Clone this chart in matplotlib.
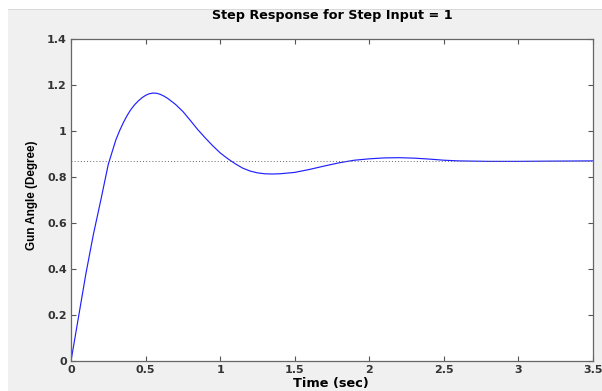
import matplotlib
matplotlib.use("Agg")
import matplotlib.pyplot as plt
from matplotlib.patches import Rectangle

# step response
t = [0, 0.05, 0.1, 0.15, 0.2, 0.25, 0.3, 0.325, 0.35, 0.375, 0.4, 0.425,
     0.45, 0.475, 0.5, 0.525, 0.55, 0.575, 0.6, 0.625, 0.65, 0.7, 0.75, 0.8,
     0.85, 0.9, 0.95, 1.0, 1.05, 1.1, 1.15, 1.2, 1.25, 1.3, 1.35, 1.4, 1.5,
     1.6, 1.7, 1.8, 1.9, 2.0, 2.1, 2.2, 2.3, 2.4, 2.5, 2.6, 2.8, 3.0, 3.2, 3.5]
angle = [0, 0.19, 0.38, 0.55, 0.70, 0.855, 0.96, 1.0, 1.035, 1.066, 1.092,
         1.113, 1.13, 1.144, 1.155, 1.162, 1.165, 1.164, 1.159, 1.151, 1.141,
         1.116, 1.085, 1.046, 1.006, 0.97, 0.936, 0.905, 0.88, 0.858, 0.839,
         0.826, 0.818, 0.814, 0.813, 0.814, 0.82, 0.833, 0.848, 0.862, 0.873,
         0.879, 0.883, 0.884, 0.882, 0.878, 0.873, 0.870, 0.868, 0.868, 0.869,
         0.870]
final_value = 0.87

xticks = [0, 0.5, 1, 1.5, 2, 2.5, 3, 3.5]
xtick_labels = ['0', '0.5', '1', '1.5', '2', '2.5', '3', '3.5']
yticks = [0, 0.2, 0.4, 0.6, 0.8, 1.0, 1.2, 1.4]
ytick_labels = ['0', '0.2', '0.4', '0.6', '0.8', '1', '1.2', '1.4']

W, H = 602, 391
fig = plt.figure(figsize=(W / 100, H / 100), dpi=100, facecolor='white')

# gray window area with white strips on top/left like the screenshot
fig.patches.append(Rectangle((8 / W, 0), 1, 1 - 9 / H, transform=fig.transFigure,
                             facecolor='#f0f0f0', edgecolor='none', zorder=-10))
fig.patches.append(Rectangle((8 / W, 1 - 10 / H), 1, 1 / H, transform=fig.transFigure,
                             facecolor='#d9d9d9', edgecolor='none', zorder=-9))

ax = fig.add_axes([71 / W, 1 - 361 / H, (593 - 71) / W, (361 - 39) / H])
ax.set_facecolor('white')

ax.plot(t, angle, color='#2020ff', lw=0.85, solid_joinstyle='round')
ax.plot([0, 3.5], [final_value, final_value], color='#666666', lw=0.7,
        linestyle=(0, (1, 2.2)))

ax.set_xlim(0, 3.5)
ax.set_ylim(0, 1.4)
ax.set_xticks(xticks)
ax.set_xticklabels(xtick_labels)
ax.set_yticks(yticks)
ax.set_yticklabels(ytick_labels)

ax.tick_params(direction='in', length=3.5, width=0.8, color='#555555',
               top=True, right=True, labelsize=8, labelcolor='#333333', pad=3)
for lab in ax.get_xticklabels() + ax.get_yticklabels():
    lab.set_fontweight('bold')
    lab.set_family('DejaVu Sans')
for sp in ax.spines.values():
    sp.set_color('#666666')
    sp.set_linewidth(0.9)

cx = (71 + 593) / 2 / W
fig.text(cx, 1 - 16 / H, 'Step Response for Step Input = 1', ha='center',
         va='center', fontsize=9.2, fontweight='bold', family='DejaVu Sans')
fig.text(331 / W, 1 - 384 / H, 'Time (sec)', ha='center', va='center',
         fontsize=9.3, fontweight='bold', family='DejaVu Sans')
fig.text(32 / W, 1 - 195 / H, 'Gun Angle (Degree)', ha='center', va='center',
         rotation=90, fontsize=8.4, fontweight='bold',
         family=['Liberation Sans Narrow', 'Liberation Sans'])

fig.savefig('out.png', dpi=100, facecolor=fig.get_facecolor())
